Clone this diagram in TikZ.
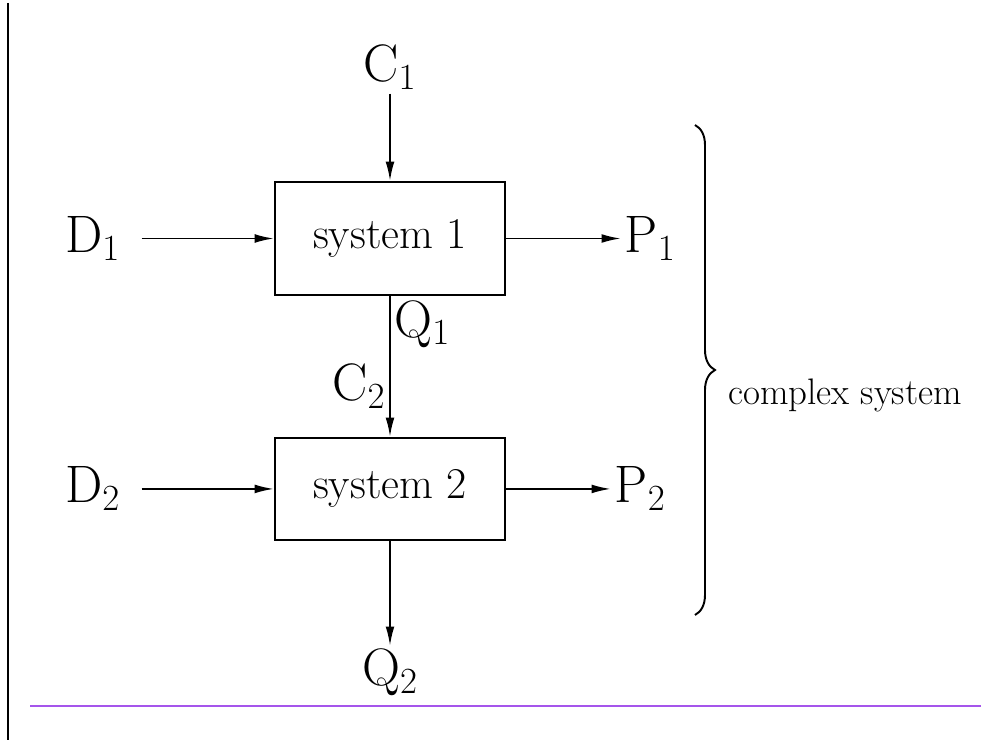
\RequirePackage{fix-cm}
\documentclass[tikz,border=0pt]{standalone}
\usepackage{amsmath}
\usepackage{xcolor}
\usepackage{tikz}
\usetikzlibrary{arrows.meta,positioning,decorations.pathreplacing}

\definecolor{rulepurple}{RGB}{165,85,235}

\begin{document}
\begin{tikzpicture}[>={Latex[length=11pt,width=5pt]},node distance=2cm,
    sysbox/.style={draw,line width=1.1pt,align=center,minimum width=4.6cm,font=\fontsize{25}{30}\selectfont},
    lbl/.style={font=\fontsize{30}{36}\selectfont,inner sep=2pt},
    flow/.style={->,line width=1.1pt}]
  \useasboundingbox (0,0) rectangle (19.62,14.94);

  % frame lines of the page
  \draw[line width=1.7pt] (0.16,14.88) -- (0.16,0.14);
  \draw[rulepurple,line width=0.7pt] (0.6,0.82) -- (19.62,0.82);

  \node[sysbox,minimum height=2.26cm] (sys1) at (7.8,10.17) {system 1};
  \node[sysbox,minimum height=2.04cm,below=2.82cm of sys1] (sys2) {system 2};

  \node[lbl,above=1.75cm of sys1] (C1) {$\mathrm{C}_1$};
  \node[lbl,left=3cm of sys1] (D1) {$\mathrm{D}_1$};
  \node[lbl,right=2.3cm of sys1] (P1) {$\mathrm{P}_1$};
  \node[lbl,left=3cm of sys2] (D2) {$\mathrm{D}_2$};
  \node[lbl,right=2.1cm of sys2] (P2) {$\mathrm{P}_2$};
  \node[lbl,below=2.1cm of sys2] (Q2) {$\mathrm{Q}_2$};

  \foreach \u/\v in {C1/sys1,sys1/P1,sys2/P2,sys2/Q2}
    \draw[flow] (\u) -- (\v);
  \foreach \u/\v in {D1/sys1,D2/sys2}
    \draw[flow,shorten <=0.35cm] (\u) -- (\v);

  % link between the two systems
  \draw[flow] (sys1) -- (sys2)
    node[lbl,pos=0.2,right] (Q1) {$\mathrm{Q}_1$}
    node[lbl,pos=0.64,left] (C2) {$\mathrm{C}_2$};

  % brace round the whole
  \coordinate (brtop) at (13.9,12.44);
  \coordinate (brbot) at (13.9,2.64);
  \draw[line width=1.1pt,decorate,decoration={brace,amplitude=0.4cm}] (brtop) -- (brbot);
  \node[font=\fontsize{21}{25}\selectfont] (cx) at (16.9,7.04) {complex system};
\end{tikzpicture}
\end{document}
